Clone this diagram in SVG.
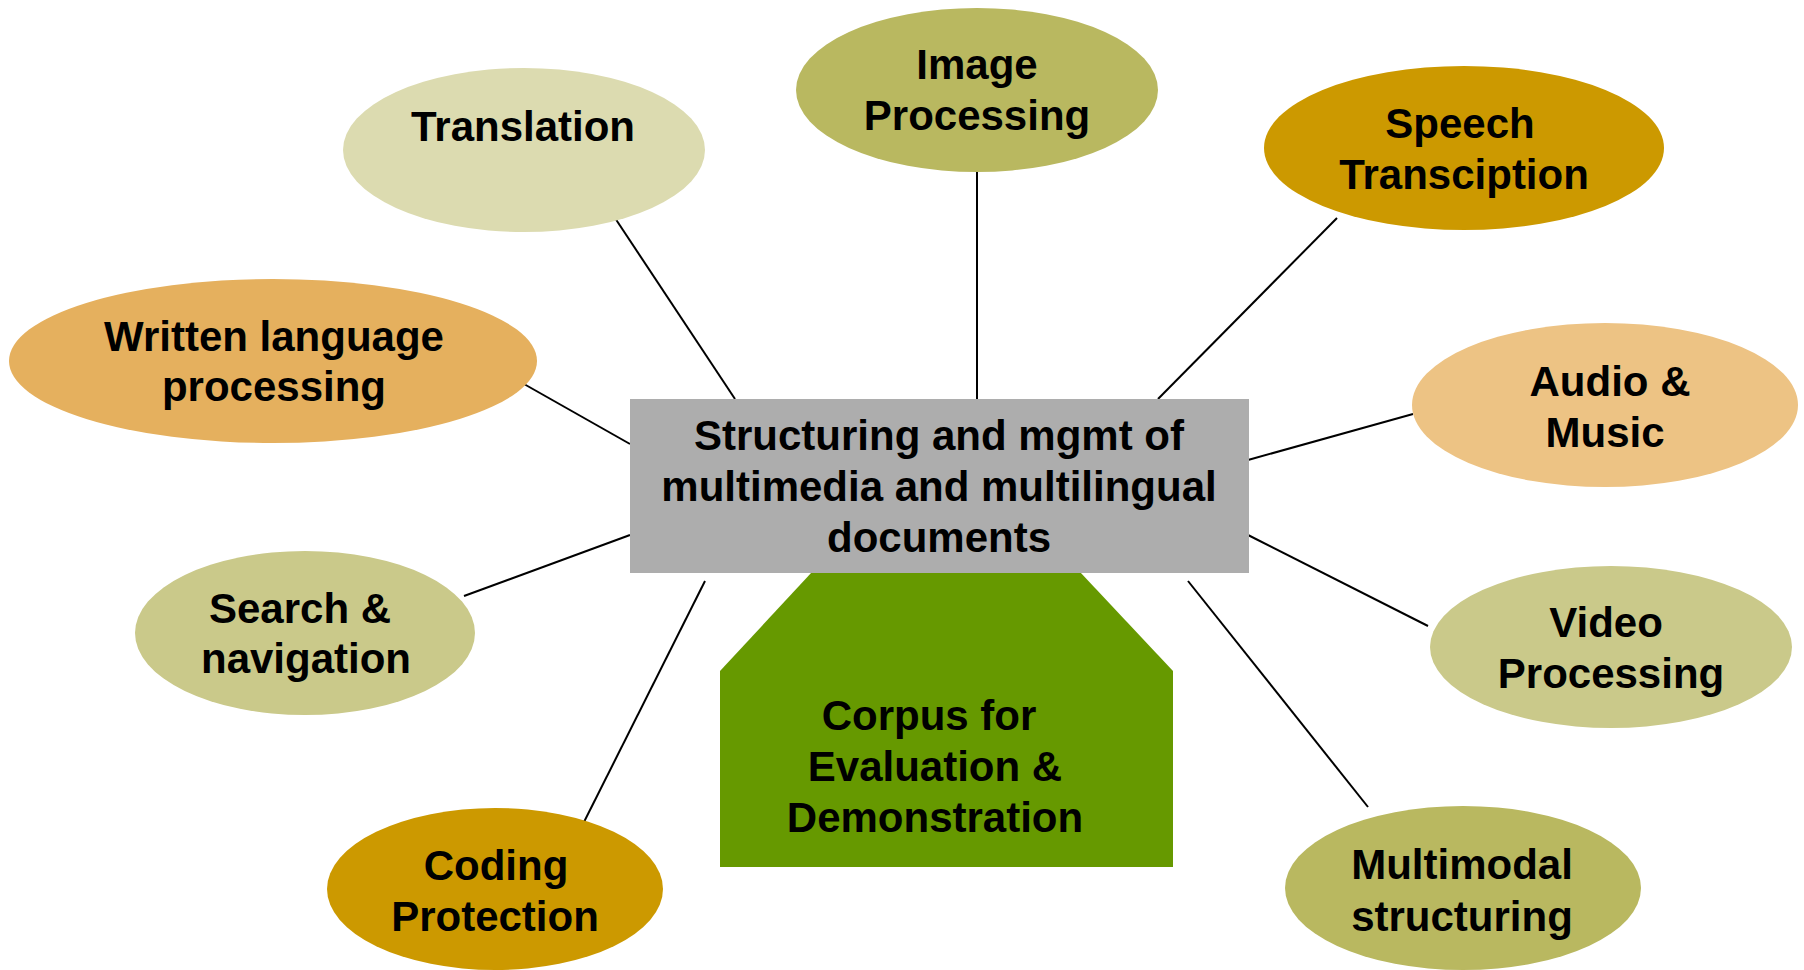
<svg xmlns="http://www.w3.org/2000/svg" width="1804" height="970" viewBox="0 0 1804 970">
<style>
text{font-family:"Liberation Sans",Arial,sans-serif;font-weight:bold;font-size:42px;fill:#000;text-anchor:middle}
.c line{stroke:#000;stroke-width:2}
</style>
<rect width="1804" height="970" fill="#fff"/>
<g id="connectors" class="c">
<line x1="615" y1="218" x2="735" y2="399"/>
<line x1="977" y1="172" x2="977" y2="399"/>
<line x1="1337" y1="218" x2="1158" y2="399"/>
<line x1="524" y1="384" x2="630" y2="444"/>
<line x1="1413" y1="414" x2="1248" y2="460"/>
<line x1="464" y1="596" x2="630" y2="535"/>
<line x1="1248" y1="535" x2="1428" y2="626"/>
<line x1="705" y1="581" x2="584" y2="822"/>
<line x1="1188" y1="581" x2="1368" y2="807"/>
</g>
<g id="corpus">
<polygon points="812,572 1080,572 1173,671 1173,867 720,867 720,671" fill="#669900"/>
<text x="929" y="730">Corpus for</text>
<text x="935" y="781">Evaluation &amp;</text>
<text x="935" y="832">Demonstration</text>
</g>
<g id="center">
<rect x="630" y="399" width="619" height="174" fill="#ADADAD"/>
<text x="939" y="450">Structuring and mgmt of</text>
<text x="939" y="501">multimedia and multilingual</text>
<text x="939" y="552">documents</text>
</g>
<g id="translation">
<ellipse cx="524" cy="150" rx="181" ry="82" fill="#DCDBB0"/>
<text x="523" y="141">Translation</text>
</g>
<g id="image">
<ellipse cx="977" cy="90" rx="181" ry="82" fill="#B9B860"/>
<text x="977" y="79">Image</text>
<text x="977" y="130">Processing</text>
</g>
<g id="speech">
<ellipse cx="1464" cy="148" rx="200" ry="82" fill="#CC9900"/>
<text x="1460" y="138">Speech</text>
<text x="1464" y="189">Transciption</text>
</g>
<g id="written">
<ellipse cx="273" cy="361" rx="264" ry="82" fill="#E5B05E"/>
<text x="274" y="351">Written language</text>
<text x="274" y="401">processing</text>
</g>
<g id="audio">
<ellipse cx="1605" cy="405" rx="193" ry="82" fill="#EDC384"/>
<text x="1610" y="396">Audio &amp;</text>
<text x="1605" y="447">Music</text>
</g>
<g id="search">
<ellipse cx="305" cy="633" rx="170" ry="82" fill="#CAC98A"/>
<text x="300" y="623">Search &amp;</text>
<text x="306" y="673">navigation</text>
</g>
<g id="video">
<ellipse cx="1611" cy="647" rx="181" ry="81" fill="#CAC98A"/>
<text x="1606" y="637">Video</text>
<text x="1611" y="688">Processing</text>
</g>
<g id="coding">
<ellipse cx="495" cy="889" rx="168" ry="81" fill="#CC9900"/>
<text x="496" y="880">Coding</text>
<text x="495" y="931">Protection</text>
</g>
<g id="multimodal">
<ellipse cx="1463" cy="888" rx="178" ry="82" fill="#B9B860"/>
<text x="1462" y="879">Multimodal</text>
<text x="1462" y="931">structuring</text>
</g>
</svg>
